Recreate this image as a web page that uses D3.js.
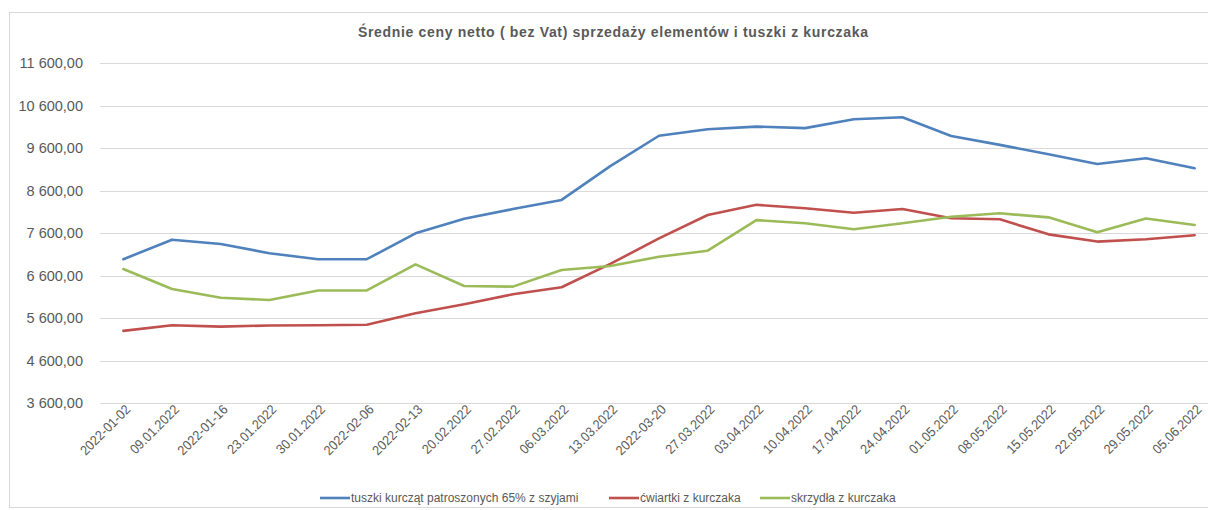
<!DOCTYPE html>
<html>
<head>
<meta charset="utf-8">
<script src="https://cdn.jsdelivr.net/npm/d3@7"></script>
<style>
body{margin:0;background:#fff;}
text{font-family:"Liberation Sans",Arial,sans-serif;fill:#595959;}
</style>
</head>
<body>
<script>
// dane
const categories = ["2022-01-02","09.01.2022","2022-01-16","23.01.2022","30.01.2022","2022-02-06","2022-02-13","20.02.2022","27.02.2022","06.03.2022","13.03.2022","2022-03-20","27.03.2022","03.04.2022","10.04.2022","17.04.2022","24.04.2022","01.05.2022","08.05.2022","15.05.2022","22.05.2022","29.05.2022","05.06.2022"];
const tuszki = [6990,7450,7350,7130,6990,6990,7600,7940,8170,8385,9180,9895,10050,10110,10075,10285,10330,9890,9680,9460,9230,9365,9130];
const cwiartki = [5305,5435,5405,5430,5435,5450,5718,5930,6165,6330,6880,7480,8030,8270,8190,8085,8172,7955,7930,7575,7405,7460,7555];
const skrzydla = [6760,6290,6085,6030,6255,6255,6870,6360,6345,6735,6830,7050,7190,7910,7835,7695,7835,7990,8070,7975,7625,7950,7795];
const yTicks = [3600,4600,5600,6600,7600,8600,9600,10600,11600];
const seriesNames = ["tuszki kurcząt patroszonych 65% z szyjami","ćwiartki z kurczaka","skrzydła z kurczaka"];
const colors = ["#4F81BD","#C0504D","#9BBB59"];

var width = 1208, height = 510;
var svg = d3.select("body").append("svg").attr("width",width).attr("height",height);

svg.append("rect").attr("x",9.5).attr("y",12.5).attr("width",1230).attr("height",495)
.attr("fill","#fff").attr("stroke","#D9D9D9");

var x = d3.scalePoint().domain(categories).range([99,1219]).padding(0.5);
var y = d3.scaleLinear().domain([3600,11600]).range([403.3,63.3]);

var pl = d3.formatLocale({decimal:",",thousands:" ",grouping:[3],currency:["",""]});
var fmt = pl.format(",.2f");

// siatka
svg.append("g").selectAll("line").data(yTicks).enter().append("line")
.attr("x1",100).attr("x2",1219)
.attr("y1",function(d){return Math.round(y(d))+0.5;}).attr("y2",function(d){return Math.round(y(d))+0.5;})
.attr("stroke","#D9D9D9").attr("stroke-width",1);

// os Y
var yAxis = svg.append("g").attr("transform","translate(90,0)")
.call(d3.axisLeft(y).tickValues(yTicks).tickSize(0).tickPadding(7).tickFormat(fmt));
yAxis.select(".domain").remove();
yAxis.selectAll("text").style("font-size","14.5px").attr("fill","#595959");

// szerokosc etykiety jak w Calibri (wezsza czcionka)
function labelWidth(s){
  var w = 0;
  for (var c of s) w += (c=="-") ? 0.306 : (c==".") ? 0.252 : 0.507;
  return w*13.8;
}

// os X
var xAxis = svg.append("g").attr("transform","translate(4,407)")
.call(d3.axisBottom(x).tickSize(0).tickPadding(0));
xAxis.select(".domain").remove();
xAxis.selectAll("text").style("font-size","13.5px").attr("fill","#595959")
.attr("text-anchor","end").attr("dy","0.35em").attr("dx","0")
.attr("textLength",function(d){return labelWidth(d);}).attr("lengthAdjust","spacingAndGlyphs")
.attr("transform","rotate(-45)").attr("y",0);

// linie
var all = [tuszki,cwiartki,skrzydla];
var line = d3.line().x(function(d,i){return x(categories[i]);}).y(function(d){return y(d);});
svg.append("g").selectAll("path").data(all).enter().append("path")
.attr("d",line).attr("fill","none")
.attr("stroke",function(d,i){return colors[i];})
.attr("stroke-width",2.6).attr("stroke-linejoin","round").attr("stroke-linecap","round");

// tytul
svg.append("text").attr("x",613).attr("y",37).attr("text-anchor","middle")
.style("font-size","14px").style("font-weight","bold")
.attr("textLength",510).attr("lengthAdjust","spacing")
.text("Średnie ceny netto ( bez Vat) sprzedaży elementów i tuszki z kurczaka");

// legenda
var legX = [320,609,760];
var legend = svg.append("g").selectAll("g").data(seriesNames).enter().append("g")
.attr("transform",function(d,i){return "translate("+legX[i]+",498)";});
legend.append("line").attr("x1",0).attr("x2",30).attr("y1",0).attr("y2",0)
.attr("stroke",function(d,i){return colors[i];}).attr("stroke-width",2.6);
legend.append("text").attr("x",31).attr("y",4).style("font-size","12px").text(function(d){return d;});
</script>
</body>
</html>
